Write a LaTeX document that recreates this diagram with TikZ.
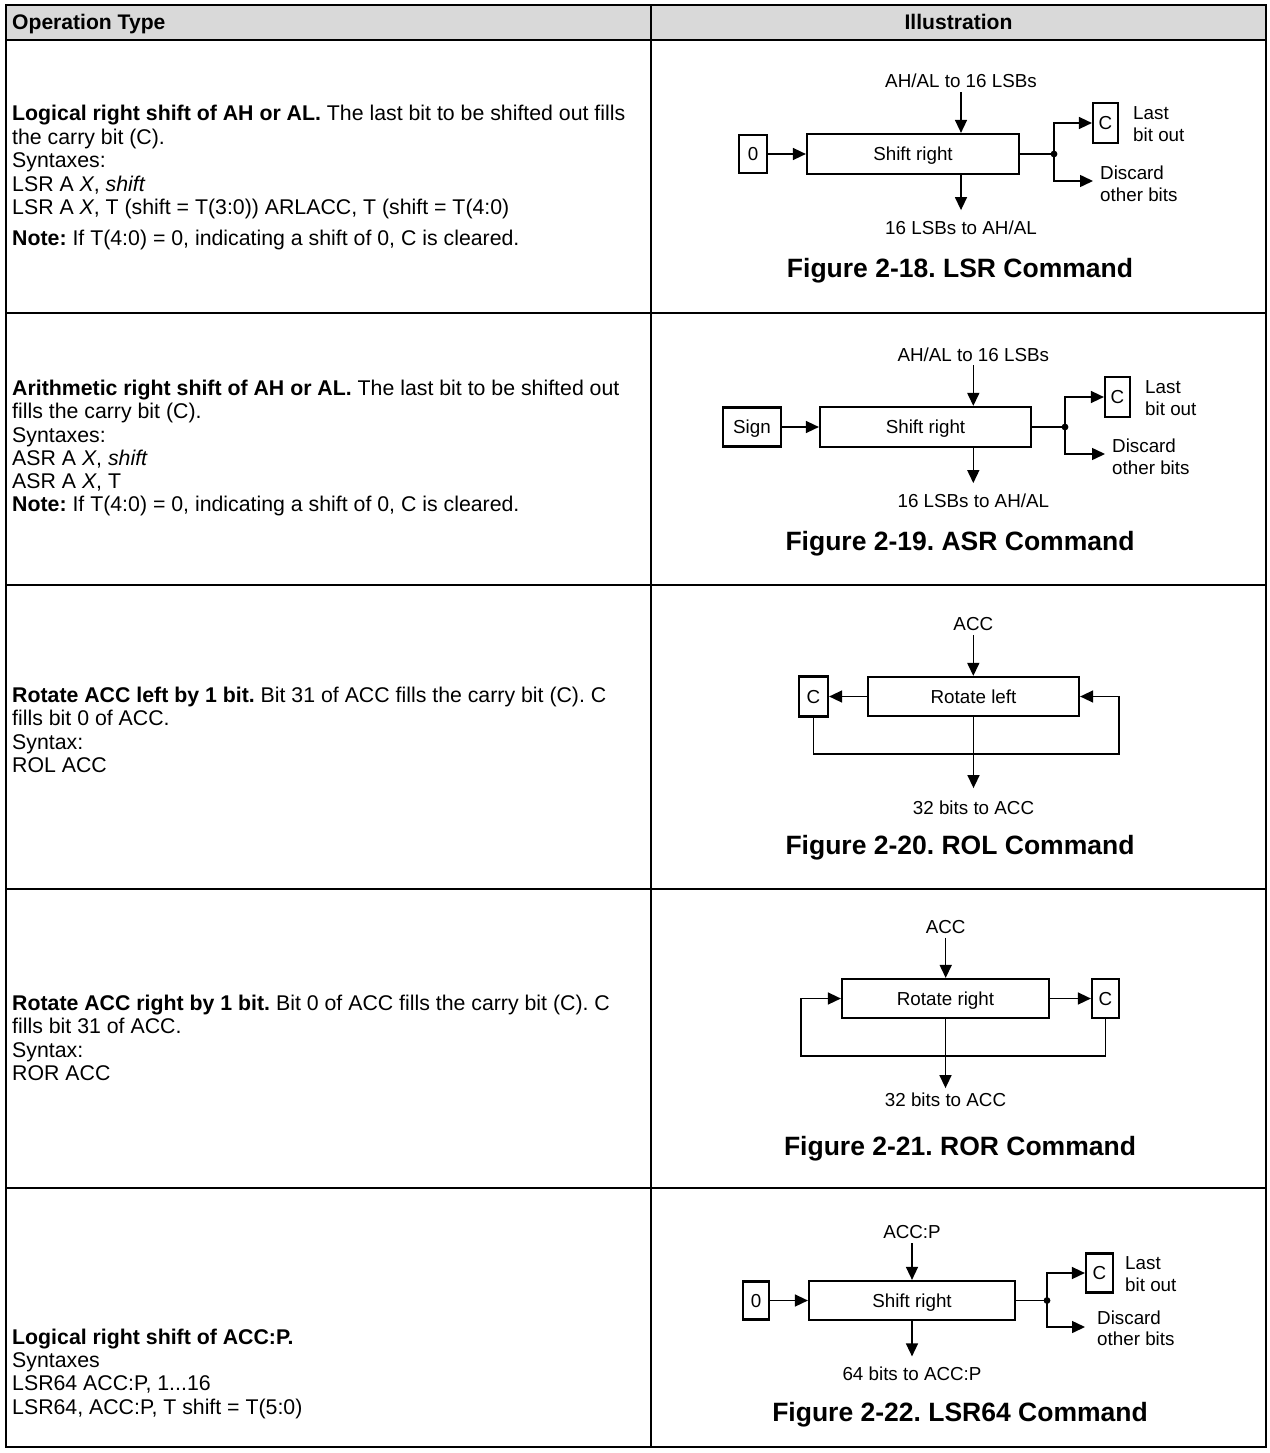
\documentclass[tikz,border=0pt]{standalone}
\usepackage{fontspec}
\setmainfont{Liberation Sans}
\usetikzlibrary{arrows.meta}
\definecolor{hdr}{HTML}{D9D9D9}
\frenchspacing
\begin{document}
\frenchspacing
\begin{tikzpicture}[x=1pt,y=-1pt,
  body/.style={anchor=base west, inner sep=0pt, font=\frenchspacing\fontsize{21.3}{23.5}\selectfont},
  hd/.style={anchor=base, inner sep=0pt, font=\bfseries\fontsize{21.1}{23.5}\selectfont},
  dlab/.style={inner sep=0pt, text height=13.4pt, text depth=0pt, font=\fontsize{18.8}{22}\selectfont},
  llab/.style={dlab, anchor=west},
  figcap/.style={anchor=base, inner sep=0pt, font=\frenchspacing\bfseries\fontsize{26.5}{30}\selectfont},
  blk/.style={draw, line width=2.2pt, inner sep=0pt, text height=13.4pt, text depth=0pt, font=\fontsize{18.8}{22}\selectfont},
  arr/.style={line width=1.5pt, -{Triangle[length=13pt,width=12pt]}},
  wire/.style={line width=1.5pt},
  grid/.style={line width=2pt}
]
\useasboundingbox (0,0) rectangle (1269,1453);
% ---------- table ----------
\fill[hdr] (6,5) rectangle (1266,40);
\draw[grid] (6,5) rectangle (1266,1447);
\draw[grid] (6,40) -- (1266,40);
\draw[grid] (6,313) -- (1266,313);
\draw[grid] (6,585) -- (1266,585);
\draw[grid] (6,889) -- (1266,889);
\draw[grid] (6,1188) -- (1266,1188);
\draw[grid] (651,5) -- (651,1447);
\node[hd, anchor=base west] (h1) at (12,29.6) {Operation Type};
\node[hd] (h2) at (958.5,29.6) {Illustration};
% ---------- row 1 text ----------
\node[body] (r1a) at (12,120.9) {\textbf{Logical right shift of AH or AL.} The last bit to be shifted out fills};
\node[body] (r1b) at (12,144.4) {the carry bit (C).};
\node[body] (r1c) at (12,167.9) {Syntaxes:};
\node[body] (r1d) at (12,191.4) {LSR A \textit{X}, \textit{shift}};
\node[body] (r1e) at (12,214.9) {LSR A \textit{X}, T (shift = T(3:0)) ARLACC, T (shift = T(4:0)};
\node[body] (r1f) at (12,245.9) {\textbf{Note:} If T(4:0) = 0, indicating a shift of 0, C is cleared.};
% ---------- row 2 text ----------
\node[body] (r2a) at (12,395.6) {\textbf{Arithmetic right shift of AH or AL.} The last bit to be shifted out};
\node[body] (r2b) at (12,418.8) {fills the carry bit (C).};
\node[body] (r2c) at (12,442.0) {Syntaxes:};
\node[body] (r2d) at (12,465.2) {ASR A \textit{X}, \textit{shift}};
\node[body] (r2e) at (12,488.4) {ASR A \textit{X}, T};
\node[body] (r2f) at (12,511.6) {\textbf{Note:} If T(4:0) = 0, indicating a shift of 0, C is cleared.};
% ---------- row 3 text ----------
\node[body] (r3a) at (12,702.6) {\textbf{Rotate ACC left by 1 bit.} Bit 31 of ACC fills the carry bit (C). C};
\node[body] (r3b) at (12,725.9) {fills bit 0 of ACC.};
\node[body] (r3c) at (12,749.2) {Syntax:};
\node[body] (r3d) at (12,772.5) {ROL ACC};
% ---------- row 4 text ----------
\node[body] (r4a) at (12,1010.6) {\textbf{Rotate ACC right by 1 bit.} Bit 0 of ACC fills the carry bit (C). C};
\node[body] (r4b) at (12,1033.9) {fills bit 31 of ACC.};
\node[body] (r4c) at (12,1057.2) {Syntax:};
\node[body] (r4d) at (12,1080.5) {ROR ACC};
% ---------- row 5 text ----------
\node[body] (r5a) at (12,1344.3) {\textbf{Logical right shift of ACC:P.}};
\node[body] (r5b) at (12,1367.6) {Syntaxes};
\node[body] (r5c) at (12,1390.9) {LSR64 ACC:P, 1...16};
\node[body] (r5d) at (12,1414.2) {LSR64, ACC:P, T shift = T(5:0)};

% ---------- Figure 2-18 ----------
\node[dlab] (t1) at (961,80.7) {AH/AL to 16 LSBs};
\node[blk, minimum width=212pt, minimum height=40pt] (sr1) at (913,154) {Shift right};
\node[blk, minimum width=28pt, minimum height=38pt] (z1) at (753,154) {0};
\node[blk, minimum width=25pt, minimum height=40pt] (c1) at (1105.5,123) {C};
\coordinate (j1) at (1054,154);
\coordinate (d1) at (1093,181);
\node[llab] (l1a) at (1133,113) {Last};
\node[llab] (l1b) at (1133,135) {bit out};
\node[llab] (k1a) at (1100,173) {Discard};
\node[llab] (k1b) at (1100,195) {other bits};
\node[dlab] (b1) at (961,228) {16 LSBs to AH/AL};
\node[figcap] (f1) at (960,277.5) {Figure 2-18. LSR Command};
\draw[arr, shorten <=4.5pt] (t1.south) -- (t1.south |- sr1.north);
\draw[arr] (z1.east) -- (sr1.west);
\draw[wire] (sr1.east) -- (j1);
\fill (j1) circle (3.4);
\draw[arr] (j1) |- (c1.west);
\draw[arr] (j1) |- (d1);
\draw[arr, shorten >=11pt] (sr1.south -| b1.north) -- (b1.north);

% ---------- Figure 2-19 ----------
\node[dlab] (t2) at (973.3,355) {AH/AL to 16 LSBs};
\node[blk, minimum width=211pt, minimum height=40pt] (sr2) at (925.5,427) {Shift right};
\node[blk, minimum width=58pt, minimum height=39pt] (sg2) at (752,427) {Sign};
\node[blk, minimum width=25pt, minimum height=40pt] (c2) at (1117.5,397) {C};
\coordinate (j2) at (1065,427);
\coordinate (d2) at (1105,454);
\node[llab] (l2a) at (1145,387) {Last};
\node[llab] (l2b) at (1145,409) {bit out};
\node[llab] (k2a) at (1112,446) {Discard};
\node[llab] (k2b) at (1112,468) {other bits};
\node[dlab] (b2) at (973.3,501) {16 LSBs to AH/AL};
\node[figcap] (f2) at (960,550.5) {Figure 2-19. ASR Command};
\draw[arr, shorten <=3.5pt] (t2.south) -- (t2.south |- sr2.north);
\draw[arr] (sg2.east) -- (sr2.west);
\draw[wire] (sr2.east) -- (j2);
\fill (j2) circle (3.4);
\draw[arr] (j2) |- (c2.west);
\draw[arr] (j2) |- (d2);
\draw[arr, shorten >=11pt] (sr2.south -| b2.north) -- (b2.north);

% ---------- Figure 2-20 ----------
\node[dlab] (a3) at (973.3,624) {ACC};
\node[blk, minimum width=211pt, minimum height=39pt] (rl3) at (973.5,696.5) {Rotate left};
\node[blk, minimum width=29pt, minimum height=40pt] (c3) at (813.5,696.5) {C};
\coordinate (q3) at (1119,754);
\node[dlab] (b3) at (973.5,808) {32 bits to ACC};
\node[figcap] (f3) at (960,854.5) {Figure 2-20. ROL Command};
\draw[arr, shorten <=4pt] (a3.south) -- (a3.south |- rl3.north);
\draw[arr] (rl3.west) -- (c3.east);
\draw[arr] (c3.south) |- (q3) |- (rl3.east);
\draw[arr, shorten >=13pt] (rl3.south) -- (rl3.south |- b3.north);

% ---------- Figure 2-21 ----------
\node[dlab] (a4) at (945.7,926.7) {ACC};
\node[blk, minimum width=207pt, minimum height=39pt] (rr4) at (945.5,998.5) {Rotate right};
\node[blk, minimum width=27pt, minimum height=39pt] (c4) at (1105.5,998.5) {C};
\coordinate (q4) at (801,1056);
\node[dlab] (b4) at (945.5,1100) {32 bits to ACC};
\node[figcap] (f4) at (960,1155.5) {Figure 2-21. ROR Command};
\draw[arr, shorten <=4pt] (a4.south) -- (a4.south |- rr4.north);
\draw[arr] (rr4.east) -- (c4.west);
\draw[arr] (c4.south) |- (q4) |- (rr4.west);
\draw[arr, shorten >=5pt] (rr4.south) -- (rr4.south |- b4.north);

% ---------- Figure 2-22 ----------
\node[dlab] (a5) at (912,1231.7) {ACC:P};
\node[blk, minimum width=206pt, minimum height=39pt] (sr5) at (912,1300.5) {Shift right};
\node[blk, minimum width=26pt, minimum height=38pt] (z5) at (756,1300.5) {0};
\node[blk, minimum width=27pt, minimum height=39pt] (c5) at (1099.5,1273) {C};
\coordinate (j5) at (1047,1300.5);
\coordinate (d5) at (1085,1327);
\node[llab] (l5a) at (1125,1263) {Last};
\node[llab] (l5b) at (1125,1285) {bit out};
\node[llab] (k5a) at (1097,1318) {Discard};
\node[llab] (k5b) at (1097,1339) {other bits};
\node[dlab] (b5) at (912,1373.3) {64 bits to ACC:P};
\node[figcap] (f5) at (960,1421.2) {Figure 2-22. LSR64 Command};
\draw[arr, shorten <=4.5pt] (a5.south) -- (a5.south |- sr5.north);
\draw[arr] (z5.east) -- (sr5.west);
\draw[wire] (sr5.east) -- (j5);
\fill (j5) circle (3.4);
\draw[arr] (j5) |- (c5.west);
\draw[arr] (j5) |- (d5);
\draw[arr, shorten >=10pt] (sr5.south -| b5.north) -- (b5.north);
\end{tikzpicture}
\end{document}
